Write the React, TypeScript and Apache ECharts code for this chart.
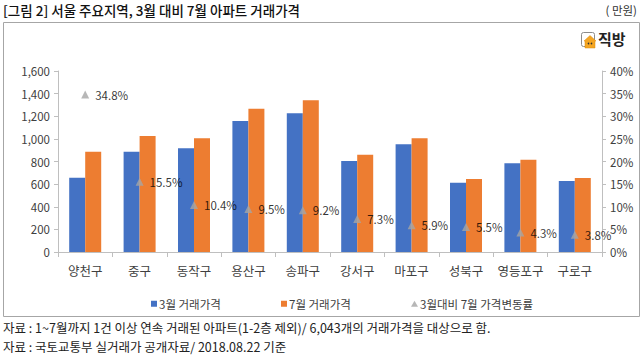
import React, { useEffect, useRef } from "react";
import * as echarts from "echarts";

const categories = ["양천구", "중구", "동작구", "용산구", "송파구", "강서구", "마포구", "성북구", "영등포구", "구로구"];
const marchPrice = [657, 887, 917, 1158, 1226, 804, 952, 613, 784, 628];
const julyPrice = [887, 1025, 1005, 1267, 1341, 860, 1005, 645, 816, 654];
const changeRate = [34.8, 15.5, 10.4, 9.5, 9.2, 7.3, 5.9, 5.5, 4.3, 3.8];
const seriesNames = ["3월 거래가격", "7월 거래가격", "3월대비 7월 가격변동률"];

const FONT = "'Noto Sans CJK KR', 'Noto Sans', sans-serif";

export default function App() {
  const ref = useRef<HTMLDivElement>(null);
  useEffect(() => {
    if (!ref.current) return;
    const chart = echarts.init(ref.current, null, { renderer: "svg" });
    const axisColor = "#BFBFBF";
    const labelColor = "#404040";
    const legendText = { fontFamily: FONT, fontSize: 11.5, color: labelColor, padding: [0, 0, 0, -3] };
    chart.setOption({
      animation: false,
      textStyle: { fontFamily: FONT },
      grid: { left: 58, right: 41, top: 71, bottom: 111 },
      legend: [
        {
          data: [{ name: seriesNames[0], icon: "rect" }],
          left: 146, top: 293, itemWidth: 6, itemHeight: 6, textStyle: legendText,
        },
        {
          data: [{ name: seriesNames[1], icon: "rect" }],
          left: 276, top: 293, itemWidth: 6, itemHeight: 6, textStyle: legendText,
        },
        {
          data: [{ name: seriesNames[2], icon: "triangle" }],
          left: 406, top: 293, itemWidth: 7, itemHeight: 6, textStyle: legendText,
        },
      ],
      xAxis: {
        type: "category",
        data: categories,
        boundaryGap: true,
        axisLine: { lineStyle: { color: axisColor } },
        axisTick: { show: true, length: 5, lineStyle: { color: axisColor } },
        axisLabel: { fontFamily: FONT, fontSize: 12.5, color: labelColor, margin: 12, interval: 0 },
      },
      yAxis: [
        {
          type: "value",
          min: 0, max: 1600, interval: 200,
          splitLine: { show: false },
          axisLine: { show: true, lineStyle: { color: axisColor } },
          axisTick: { show: true, length: 4, lineStyle: { color: axisColor } },
          axisLabel: {
            fontFamily: FONT, fontSize: 11.5, color: labelColor, margin: 8,
            formatter: (v: number) => v.toLocaleString("en-US"),
          },
        },
        {
          type: "value",
          min: 0, max: 40, interval: 5,
          splitLine: { show: false },
          axisLine: { show: true, lineStyle: { color: axisColor } },
          axisTick: { show: true, length: 4, lineStyle: { color: axisColor } },
          axisLabel: { fontFamily: FONT, fontSize: 11.5, color: labelColor, margin: 8, formatter: "{value}%" },
        },
      ],
      series: [
        {
          name: seriesNames[0], type: "bar", yAxisIndex: 0, data: marchPrice,
          barWidth: 16, barGap: "0%", itemStyle: { color: "#4472C4" },
        },
        {
          name: seriesNames[1], type: "bar", yAxisIndex: 0, data: julyPrice,
          barWidth: 16, barGap: "0%", itemStyle: { color: "#ED7D31" },
        },
        {
          name: seriesNames[2], type: "scatter", yAxisIndex: 1, data: changeRate,
          symbol: "triangle", symbolSize: 8, itemStyle: { color: "#A5A5A5" },
          label: {
            show: true, position: "right", distance: 6, fontFamily: FONT, fontSize: 11.5, color: "#000",
            formatter: (p: any) => Number(p.value).toFixed(1) + "%",
          },
        },
      ],
      graphic: [
        {
          type: "rect", z: -10, silent: true,
          shape: { x: 3.5, y: 22.5, width: 636, height: 294 },
          style: { fill: "#fff", stroke: "#A6A6A6", lineWidth: 1 },
        },
        {
          type: "text", left: 3, top: 3,
          style: { text: "[그림 2] 서울 주요지역, 3월 대비 7월 아파트 거래가격", fontFamily: FONT, fontSize: 13.5, fontWeight: 500, fill: "#111" },
        },
        {
          type: "text", right: 6, top: 4,
          style: { text: "( 만원)", fontFamily: FONT, fontSize: 11.5, fill: "#333" },
        },
        {
          type: "rect",
          shape: { x: 581.5, y: 32.5, width: 13, height: 14, r: 2 },
          style: { fill: "#fff", stroke: "#8C8C8C", lineWidth: 1 },
        },
        {
          type: "polygon",
          shape: { points: [[584, 41], [590, 35.5], [596, 41], [595, 41], [595, 48], [585, 48], [585, 41]] },
          style: { fill: "#F5A623", stroke: "#D98A0A", lineWidth: 0.5 },
        },
        { type: "circle", shape: { cx: 588.5, cy: 43.5, r: 0.8 }, style: { fill: "#333" } },
        { type: "circle", shape: { cx: 591.5, cy: 43.5, r: 0.8 }, style: { fill: "#333" } },
        {
          type: "text", left: 598, top: 31,
          style: { text: "직방", fontFamily: FONT, fontSize: 15, fontWeight: "bold", fill: "#222" },
        },
        {
          type: "text", left: 3, top: 321,
          style: { text: "자료 : 1~7월까지 1건 이상 연속 거래된 아파트(1-2층 제외)/ 6,043개의 거래가격을 대상으로 함.", fontFamily: FONT, fontSize: 12.5, fill: "#222" },
        },
        {
          type: "text", left: 3, top: 340,
          style: { text: "자료 : 국토교통부 실거래가 공개자료/ 2018.08.22 기준", fontFamily: FONT, fontSize: 12.5, fill: "#222" },
        },
      ],
    });
    return () => chart.dispose();
  }, []);
  return <div ref={ref} style={{ position: "fixed", left: 0, top: 0, width: 643, height: 363, background: "#fff" }} />;
}
